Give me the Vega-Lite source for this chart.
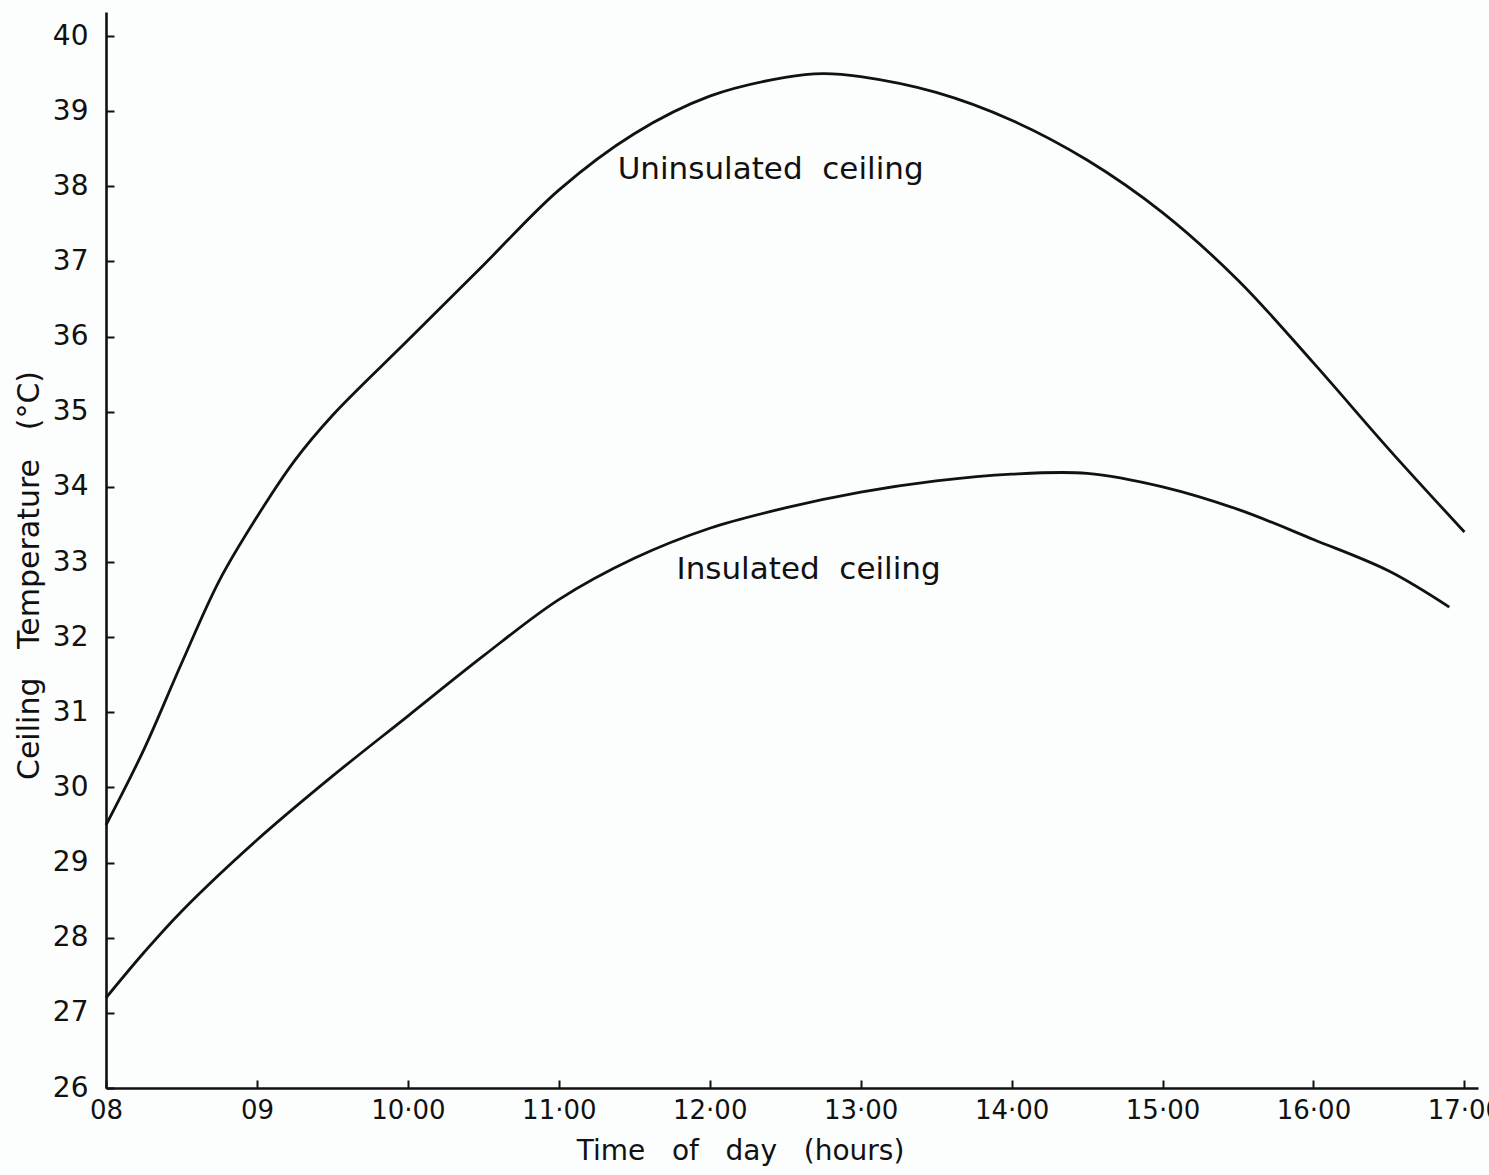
{
  "$schema": "https://vega.github.io/schema/vega-lite/v6.json",
  "width": 1372,
  "height": 1076,
  "autosize": {"type": "none"},
  "padding": {"left": 106, "top": 12, "right": 11, "bottom": 87},
  "background": "#fcfdfd",
  "config": {
    "view": {"stroke": null},
    "font": "DejaVu Sans",
    "axis": {
      "domainColor": "#111111",
      "domainWidth": 2.6,
      "tickColor": "#111111",
      "tickWidth": 2,
      "tickSize": -8,
      "labelColor": "#111111",
      "titleColor": "#111111",
      "labelFont": "DejaVu Sans",
      "titleFont": "DejaVu Sans",
      "titleFontSize": 28,
      "titleFontWeight": "normal",
      "grid": false
    }
  },
  "datasets": {
    "curves": [
      {"hour": 8.0, "temp": 29.5, "series": "Uninsulated"},
      {"hour": 8.25, "temp": 30.5, "series": "Uninsulated"},
      {"hour": 8.5, "temp": 31.65, "series": "Uninsulated"},
      {"hour": 8.75, "temp": 32.75, "series": "Uninsulated"},
      {"hour": 9.0, "temp": 33.6, "series": "Uninsulated"},
      {"hour": 9.25, "temp": 34.35, "series": "Uninsulated"},
      {"hour": 9.5, "temp": 34.95, "series": "Uninsulated"},
      {"hour": 10.0, "temp": 35.95, "series": "Uninsulated"},
      {"hour": 10.5, "temp": 36.95, "series": "Uninsulated"},
      {"hour": 11.0, "temp": 37.95, "series": "Uninsulated"},
      {"hour": 11.5, "temp": 38.7, "series": "Uninsulated"},
      {"hour": 12.0, "temp": 39.2, "series": "Uninsulated"},
      {"hour": 12.5, "temp": 39.45, "series": "Uninsulated"},
      {"hour": 12.75, "temp": 39.5, "series": "Uninsulated"},
      {"hour": 13.0, "temp": 39.46, "series": "Uninsulated"},
      {"hour": 13.5, "temp": 39.25, "series": "Uninsulated"},
      {"hour": 14.0, "temp": 38.88, "series": "Uninsulated"},
      {"hour": 14.5, "temp": 38.35, "series": "Uninsulated"},
      {"hour": 15.0, "temp": 37.65, "series": "Uninsulated"},
      {"hour": 15.5, "temp": 36.75, "series": "Uninsulated"},
      {"hour": 16.0, "temp": 35.65, "series": "Uninsulated"},
      {"hour": 16.5, "temp": 34.5, "series": "Uninsulated"},
      {"hour": 17.0, "temp": 33.4, "series": "Uninsulated"},
      {"hour": 8.0, "temp": 27.2, "series": "Insulated"},
      {"hour": 8.25, "temp": 27.8, "series": "Insulated"},
      {"hour": 8.5, "temp": 28.35, "series": "Insulated"},
      {"hour": 9.0, "temp": 29.3, "series": "Insulated"},
      {"hour": 9.5, "temp": 30.15, "series": "Insulated"},
      {"hour": 10.0, "temp": 30.95, "series": "Insulated"},
      {"hour": 10.5, "temp": 31.75, "series": "Insulated"},
      {"hour": 11.0, "temp": 32.5, "series": "Insulated"},
      {"hour": 11.5, "temp": 33.05, "series": "Insulated"},
      {"hour": 12.0, "temp": 33.45, "series": "Insulated"},
      {"hour": 12.5, "temp": 33.72, "series": "Insulated"},
      {"hour": 13.0, "temp": 33.93, "series": "Insulated"},
      {"hour": 13.5, "temp": 34.08, "series": "Insulated"},
      {"hour": 14.0, "temp": 34.17, "series": "Insulated"},
      {"hour": 14.5, "temp": 34.18, "series": "Insulated"},
      {"hour": 15.0, "temp": 34.0, "series": "Insulated"},
      {"hour": 15.5, "temp": 33.7, "series": "Insulated"},
      {"hour": 16.0, "temp": 33.3, "series": "Insulated"},
      {"hour": 16.5, "temp": 32.88, "series": "Insulated"},
      {"hour": 16.9, "temp": 32.4, "series": "Insulated"}
    ],
    "labels": [
      {"hour": 11.39, "temp": 38.22, "text": "Uninsulated\u00a0\u00a0ceiling"},
      {"hour": 11.78, "temp": 32.89, "text": "Insulated\u00a0\u00a0ceiling"}
    ]
  },
  "layer": [
    {
      "data": {"name": "curves"},
      "mark": {"type": "line", "interpolate": "catmull-rom", "color": "#111111", "strokeWidth": 2.8},
      "encoding": {
        "x": {
          "field": "hour",
          "type": "quantitative",
          "scale": {"domain": [8, 17.09], "nice": false, "zero": false},
          "axis": {
            "values": [8, 9, 10, 11, 12, 13, 14, 15, 16, 17],
            "labelExpr": "datum.value == 8 ? '08' : datum.value == 9 ? '09' : datum.value + '·00'",
            "labelFontSize": 26,
            "title": "Time\u00a0\u00a0 of\u00a0\u00a0 day\u00a0\u00a0 (hours)",
            "titleX": 634,
            "labelPadding": 17,
            "titlePadding": 14,
            "labelFlush": false
          }
        },
        "y": {
          "field": "temp",
          "type": "quantitative",
          "scale": {"domain": [26, 40.32], "nice": false, "zero": false},
          "axis": {
            "values": [26, 27, 28, 29, 30, 31, 32, 33, 34, 35, 36, 37, 38, 39, 40],
            "format": "d",
            "labelFontSize": 28,
            "title": "Ceiling\u00a0\u00a0 Temperature\u00a0\u00a0 (°C)",
            "titleFontSize": 30,
            "titleY": 563,
            "labelPadding": 26,
            "titlePadding": 8,
            "labelFlush": false
          }
        },
        "detail": {"field": "series"}
      }
    },
    {
      "data": {"name": "labels"},
      "mark": {"type": "text", "align": "left", "baseline": "middle", "fontSize": 31, "color": "#111111", "font": "DejaVu Sans"},
      "encoding": {
        "x": {"field": "hour", "type": "quantitative"},
        "y": {"field": "temp", "type": "quantitative"},
        "text": {"field": "text"}
      }
    }
  ]
}
